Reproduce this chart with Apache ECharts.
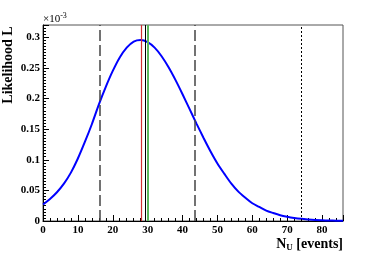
<!DOCTYPE html>
<html><head><meta charset="utf-8">
<script src="https://cdn.jsdelivr.net/npm/echarts@6/dist/echarts.min.js"></script>
<style>html,body{margin:0;padding:0;background:#fff}#c{width:382px;height:254px}</style>
</head><body><div id="c"></div>
<script>
// N_U values (events)
const nuValues = [0,2,4,6,8,10,12,14,16,18,20,22,24,26,28,30,32,34,36,38,40,42,44,46,48,50,52,54,56,58,60,62,64,66,68,70,72,74,76,78,80,82,84,86];
// Likelihood L (x 10^-3)
const likelihood = [0.027,0.036,0.047,0.061,0.079,0.102,0.129,0.158,0.190,0.219,0.245,0.267,0.283,0.293,0.2955,0.292,0.283,0.269,0.251,0.230,0.207,0.183,0.159,0.136,0.114,0.094,0.077,0.061,0.048,0.038,0.029,0.023,0.017,0.013,0.0095,0.007,0.005,0.0035,0.0025,0.0017,0.0012,0.0008,0.0005,0.0003];
// vertical reference lines
const modeLine = 28.1;    // red
const meanLine = 29.3;    // black
const greenLine = 30.0;   // green
const intervalLines = [16.2, 43.4]; // dashed
const limitLine = 74.1;   // dotted
const xTicks = {min: 0, max: 86, interval: 10};
const yTicks = {min: 0, max: 0.32, interval: 0.05};

const chart = echarts.init(document.getElementById('c'), null, {renderer: 'canvas'});
const serif = '"Liberation Serif", "DejaVu Serif", serif';
const vl = (x, color, width, type) => ({xAxis: x, lineStyle: {color: color, width: width, type: type}});
const option = {
  animation: false,
  grid: {left: 43, right: 39, top: 25, bottom: 33, show: true, borderColor: '#555', borderWidth: 1, backgroundColor: 'transparent'},
  xAxis: {
    type: 'value', min: xTicks.min, max: xTicks.max, interval: xTicks.interval,
    axisLine: {show: true, onZero: false, lineStyle: {color: '#000', width: 1}},
    axisTick: {show: true, inside: true, length: 6, lineStyle: {color: '#000'}},
    minorTick: {show: true, splitNumber: 5, length: 3, lineStyle: {color: '#000'}},
    splitLine: {show: false},
    axisLabel: {fontFamily: serif, fontWeight: 'bold', fontSize: 11, color: '#000', margin: 4,
      formatter: v => (v % 10 === 0 ? String(v) : '')}
  },
  yAxis: {
    type: 'value', min: yTicks.min, max: yTicks.max, interval: yTicks.interval,
    axisLine: {show: true, onZero: false, lineStyle: {color: '#000', width: 1}},
    axisTick: {show: true, inside: true, length: 6, lineStyle: {color: '#000'}},
    minorTick: {show: true, splitNumber: 10, length: 3, lineStyle: {color: '#000'}},
    splitLine: {show: false},
    axisLabel: {fontFamily: serif, fontWeight: 'bold', fontSize: 11, color: '#000', margin: 3,
      formatter: v => {
        const k = v / 0.05;
        if (Math.abs(k - Math.round(k)) > 1e-6 || v > 0.301) return '';
        return String(parseFloat(v.toFixed(2)));
      }}
  },
  series: [{
    type: 'line',
    data: nuValues.map((x, i) => [x, likelihood[i]]),
    smooth: 0.3, showSymbol: false, clip: true,
    lineStyle: {color: '#0000ff', width: 2},
    markLine: {
      silent: true, symbol: 'none', label: {show: false}, animation: false,
      data: [
        vl(intervalLines[0], '#444', 1.5, [11, 4]),
        vl(intervalLines[1], '#444', 1.5, [11, 4]),
        vl(modeLine, '#d03030', 1.2, 'solid'),
        vl(meanLine, '#000', 1, 'solid'),
        vl(greenLine, '#5cb85c', 2, 'solid'),
        vl(limitLine, '#000', 1, [2, 2])
      ]
    }
  }],
  graphic: [
    {type: 'text', x: 1, y: 65, rotation: Math.PI / 2, originX: 0, originY: 0,
      style: {text: 'Likelihood L', font: 'bold 14px ' + serif, fill: '#000', align: 'center', verticalAlign: 'top'}},
    {type: 'text', left: 43, top: 12,
      style: {text: '×10{sup|-3}', font: '11px ' + serif, fill: '#000',
        rich: {sup: {fontSize: 8, verticalAlign: 'top', fontFamily: serif, padding: [0, 0, 6, 0]}}}},
    {type: 'text', right: 39, top: 237,
      style: {text: 'N{sub|U} [events]', font: 'bold 14px ' + serif, fill: '#000',
        rich: {sub: {fontSize: 9, fontWeight: 'bold', fontFamily: serif, padding: [7, 0, 0, 0]}}}}
  ]
};
chart.setOption(option);
</script></body></html>
